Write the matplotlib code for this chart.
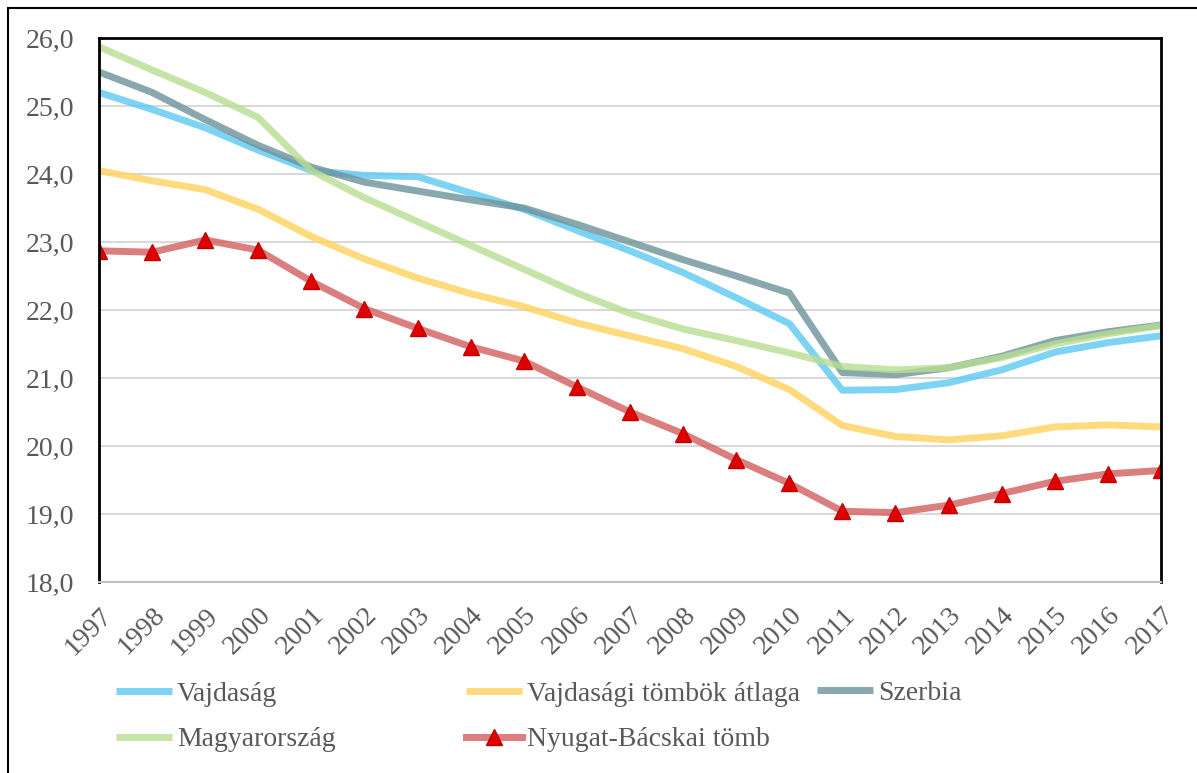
import matplotlib.pyplot as plt
from matplotlib.patches import Rectangle
from matplotlib.lines import Line2D

plt.rcParams['font.family'] = ['Liberation Serif', 'DejaVu Serif']

# years on the x axis
years = list(range(1997, 2018))

# series values
vajdasag = [25.20, 24.95, 24.68, 24.35, 24.05, 23.98, 23.96, 23.72, 23.48, 23.17, 22.87,
            22.55, 22.18, 21.80, 20.82, 20.83, 20.93, 21.12, 21.38, 21.52, 21.62]
tombok_atlag = [24.05, 23.90, 23.77, 23.48, 23.08, 22.75, 22.47, 22.24, 22.05, 21.81, 21.62,
                21.43, 21.17, 20.83, 20.30, 20.14, 20.09, 20.15, 20.28, 20.31, 20.28]
szerbia = [25.50, 25.20, 24.80, 24.42, 24.10, 23.88, 23.75, 23.62, 23.50, 23.26, 23.00,
           22.74, 22.50, 22.25, 21.08, 21.05, 21.15, 21.32, 21.55, 21.68, 21.78]
magyarorszag = [25.87, 25.53, 25.20, 24.83, 24.05, 23.65, 23.30, 22.95, 22.60, 22.25, 21.95,
                21.72, 21.55, 21.37, 21.17, 21.12, 21.15, 21.30, 21.50, 21.65, 21.77]
nyugat_bacska = [22.87, 22.85, 23.03, 22.88, 22.42, 22.02, 21.73, 21.46, 21.25, 20.87, 20.50,
                 20.18, 19.80, 19.45, 19.04, 19.02, 19.13, 19.30, 19.48, 19.59, 19.64]

labels = ['Vajdaság', 'Vajdasági tömbök átlaga', 'Szerbia', 'Magyarország', 'Nyugat-Bácskai tömb']
yticks = [18, 19, 20, 21, 22, 23, 24, 25, 26]

fig = plt.figure(figsize=(11.97, 7.73), dpi=100)
ax = fig.add_axes([99/1197, 1 - 582/773, (1161 - 99)/1197, (582 - 38)/773])

lw = 5
l1, = ax.plot(years, vajdasag, color='#5CC8F2', lw=lw, alpha=0.8, solid_capstyle='butt')
l2, = ax.plot(years, tombok_atlag, color='#FFD35D', lw=lw, alpha=0.8, solid_capstyle='butt')
l3, = ax.plot(years, szerbia, color='#6C929A', lw=lw, alpha=0.8, solid_capstyle='butt')
l4, = ax.plot(years, magyarorszag, color='#B8DE92', lw=lw, alpha=0.8, solid_capstyle='butt')
ax.plot(years, nyugat_bacska, color='#D35E5E', lw=lw, alpha=0.8, solid_capstyle='butt')
ax.plot(years, nyugat_bacska, ls='none', marker='^', markersize=12,
        markerfacecolor='#E00000', markeredgecolor='#C00000', markeredgewidth=1)
l5 = Line2D([], [], color='#DC7E7E', lw=lw, marker='^', markersize=12,
            markerfacecolor='#E00000', markeredgecolor='#C00000')

ax.set_xlim(1997, 2017)
ax.set_ylim(18, 26)
ax.set_yticks(yticks)
ax.set_yticklabels([f'{v:.1f}'.replace('.', ',') for v in yticks])
ax.set_xticks(years)
ax.set_xticklabels([str(y) for y in years], rotation=45, ha='right', va='top',
                   rotation_mode='anchor')
ax.tick_params(axis='both', length=0, labelsize=20, labelcolor='#595959')
ax.tick_params(axis='y', pad=18)
ax.tick_params(axis='x', pad=15)

ax.grid(axis='y', color='#D9D9D9', lw=1.5)
ax.set_axisbelow(True)
for s in ['left', 'top', 'right']:
    ax.spines[s].set_color('black')
    ax.spines[s].set_linewidth(2)
ax.spines['bottom'].set_color('#BFBFBF')
ax.spines['bottom'].set_linewidth(1.5)

# legend, three columns placed like the original
common = dict(frameon=False, fontsize=20, labelcolor='#595959', handlelength=2.0,
              handletextpad=0.2, borderpad=0, borderaxespad=0, labelspacing=0.72,
              loc='center left')
fig.legend([l1, l4], [labels[0], labels[3]], bbox_to_anchor=(116/1197, 1 - 717/773), **common)
fig.legend([l2, l5], [labels[1], labels[4]], bbox_to_anchor=(466/1197, 1 - 717/773), **common)
fig.legend([l3], [labels[2]], bbox_to_anchor=(817/1197, 1 - 693/773), **common)

# outer frame around the chart
fig.patches.append(Rectangle((8/1197, -0.01), 1.0, 1 - 8/773 + 0.01, transform=fig.transFigure,
                             fill=False, edgecolor='black', lw=1.5))

fig.savefig('out.png', dpi=100)
